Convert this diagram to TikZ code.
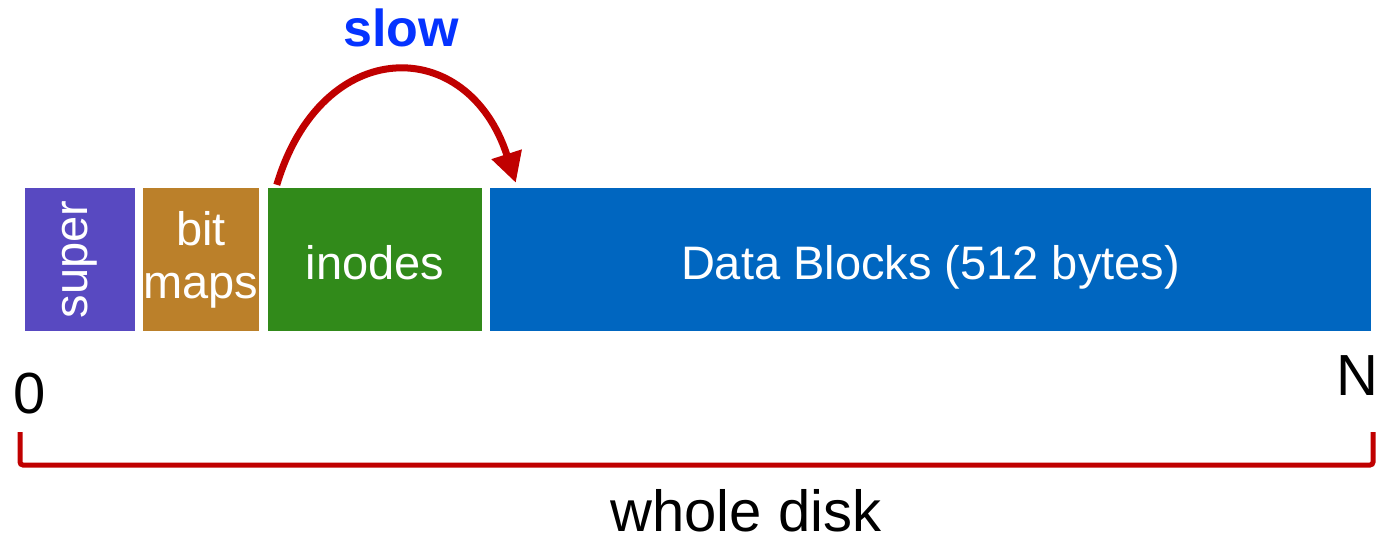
\documentclass[tikz,border=0pt]{standalone}
\usepackage{fontspec}
\setmainfont{Liberation Sans}
\usetikzlibrary{positioning,arrows.meta}
\definecolor{superColor}{RGB}{88,73,193}
\definecolor{bitmapColor}{RGB}{187,128,42}
\definecolor{inodeColor}{RGB}{49,138,26}
\definecolor{dataColor}{RGB}{0,102,192}
\definecolor{slowColor}{RGB}{192,0,0}
\definecolor{labelBlue}{RGB}{5,51,255}
\tikzstyle{disk} = [x = 1pt, y = -1pt]
\tikzstyle{blockStyle} = [inner sep = 0pt, minimum height = 143pt, text = white, font = \fontsize{47}{53}\selectfont, align = center]
\tikzstyle{lowText} = [text height = 40pt, text depth = 0pt]
\tikzstyle{edgeText} = [font = \fontsize{58}{60}\selectfont, anchor = base, inner sep = 0pt]
\tikzstyle{slowArrow} = [color = slowColor, line width = 7pt, -{Triangle[length = 30pt, width = 30pt]}]
\tikzstyle{braceLine} = [color = slowColor, line width = 5pt, rounded corners = 3pt]

\begin{document}
\begin{tikzpicture}[disk]
  \useasboundingbox (0,0) rectangle (1376,541);
  % the four regions of the disk
  \node [blockStyle, fill = superColor, rotate = 90, minimum height = 110pt, minimum width = 143pt] (superBlock) at (80,259.5) {super};
  \node [blockStyle, fill = bitmapColor, minimum width = 116pt] (bitmapBlock) at (201,259.5) {bit\\maps};
  \node [blockStyle, lowText, fill = inodeColor, minimum width = 214pt] (inodeBlock) at (375,259.5) {inodes};
  \node [blockStyle, lowText, fill = dataColor, minimum width = 881pt] (dataBlock) at (930.5,259.5) {Data Blocks (512 bytes)};

  % jump over the inodes
  \node [edgeText, font = \fontsize{52}{56}\selectfont\bfseries, text = labelBlue] (slowLabel) at (401,46) {slow};
  \draw [slowArrow] ([xshift = 9pt, yshift = 3pt]inodeBlock.north west)
    .. controls (322,34) and (468,34) .. ([xshift = 26pt, yshift = 5pt]dataBlock.north west);

  % ends and whole disk
  \node [edgeText] (zeroLabel) at (30,413) {0};
  \node [edgeText] (endLabel) at (1357,395) {N};
  \coordinate (braceLeft) at (20,432);
  \coordinate (braceRight) at (1373,432);
  \draw [braceLine] (braceLeft) -- ++(0,33) -| (braceRight);
  \node [edgeText] (diskLabel) at (746,531) {whole disk};
\end{tikzpicture}
\end{document}
